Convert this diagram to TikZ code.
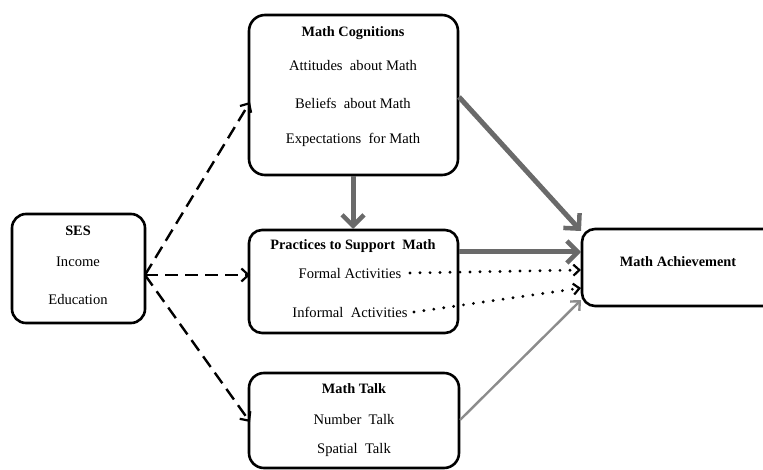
\documentclass[tikz,border=0pt]{standalone}
\usepackage{fontspec}
\setmainfont{Liberation Serif}
\usetikzlibrary{arrows.meta}
\definecolor{thickgray}{HTML}{6A6A6A}
\definecolor{thingray}{HTML}{8C8C8C}
\begin{document}
\begin{tikzpicture}[x=1pt,y=-1pt,
  box/.style={draw=black, line width=2.6pt, rounded corners=16pt, inner sep=0pt},
  txt/.style={font=\fontsize{14.6}{16}\selectfont, inner sep=0pt, anchor=center},
  ttl/.style={font=\fontsize{14.3}{16}\selectfont\bfseries, inner sep=0pt, anchor=center},
  dasharrow/.style={draw=black, line width=2.4pt, dash pattern=on 13pt off 7pt,
    -{Straight Barb[length=7pt,width=13pt,line width=2.2pt]}},
  strong/.style={draw=thickgray, line width=5pt,
    -{Straight Barb[length=11pt,width=22pt,line width=4.5pt]}},
  weak/.style={draw=thingray, line width=2.4pt,
    -{Straight Barb[length=7pt,width=13pt,line width=2.4pt]}},
  dotarrow/.style={draw=black, line width=3.2pt, line cap=round, dash pattern=on 0pt off 10pt,
    -{Straight Barb[length=6pt,width=11pt,line width=2.2pt]}}
]
\useasboundingbox (0,0) rectangle (763,470);

% boxes
\draw[box] (249,15) rectangle (458,175);
\node[minimum width=209pt,minimum height=160pt,inner sep=0pt] (cog) at (353.5,95) {};
\draw[box,rounded corners=14pt] (12,214) rectangle (145,323);
\node[minimum width=133pt,minimum height=109pt,inner sep=0pt] (ses) at (78.5,268.5) {};
\draw[box,rounded corners=13pt] (249,230) rectangle (458,333);
\node[minimum width=209pt,minimum height=103pt,inner sep=0pt] (prac) at (353.5,281.5) {};
\draw[box,rounded corners=13pt] (582,229) rectangle (830,306);
\node[minimum width=248pt,minimum height=77pt,inner sep=0pt] (ach) at (706,267.5) {};
\draw[box,rounded corners=15pt] (249,373) rectangle (459,468);
\node[minimum width=210pt,minimum height=95pt,inner sep=0pt] (talk) at (354,420.5) {};

% texts
\node[ttl] (cogT) at (353,33) {Math Cognitions};
\node[txt] (cog1) at (353,66) {Attitudes\ \ about Math};
\node[txt] (cog2) at (353,103) {Beliefs\ \ about Math};
\node[txt] (cog3) at (353,140) {Expectations\ \ for Math};

\node[ttl] (sesT) at (78,231) {SES};
\node[txt] (ses1) at (78,262) {Income};
\node[txt] (ses2) at (78,300) {Education};

\node[ttl] (pracT) at (353,246) {Practices to Support\ \ Math};
\node[txt] (formal) at (350,274) {Formal Activities};
\node[txt] (informal) at (350,312) {Informal\ \ Activities};

\node[ttl] (achT) at (678,262) {Math Achievement};

\node[ttl] (talkT) at (354,389) {Math Talk};
\node[txt] (talk1) at (354,420) {Number\ \ Talk};
\node[txt] (talk2) at (354,450) {Spatial\ \ Talk};

% connector anchor points
\coordinate (sesout) at (145,275);
\coordinate (cogin) at (250,102);
\coordinate (pracin) at (250,275);
\coordinate (talkin) at (250,422);
\coordinate (cogbot) at (353,176);
\coordinate (practop) at (353,229);
\coordinate (cogright) at (459,97);
\coordinate (achtl) at (581,231);
\coordinate (pracright) at (459,252);
\coordinate (achmid) at (581,252);
\coordinate (formalend) at (410,273);
\coordinate (achf) at (581,270);
\coordinate (informalend) at (414,312);
\coordinate (achi) at (581,288);
\coordinate (talkright) at (460,420);
\coordinate (achbl) at (581,300);

% connectors
\draw[dasharrow] (sesout) -- (cogin);
\draw[dasharrow] (sesout) -- (pracin);
\draw[dasharrow] (sesout) -- (talkin);
\draw[strong] (cogbot) -- (practop);
\draw[strong] (cogright) -- (achtl);
\draw[strong] (pracright) -- (achmid);
\draw[dotarrow] (formalend) -- (achf);
\draw[dotarrow] (informalend) -- (achi);
\draw[weak] (talkright) -- (achbl);
\end{tikzpicture}
\end{document}
